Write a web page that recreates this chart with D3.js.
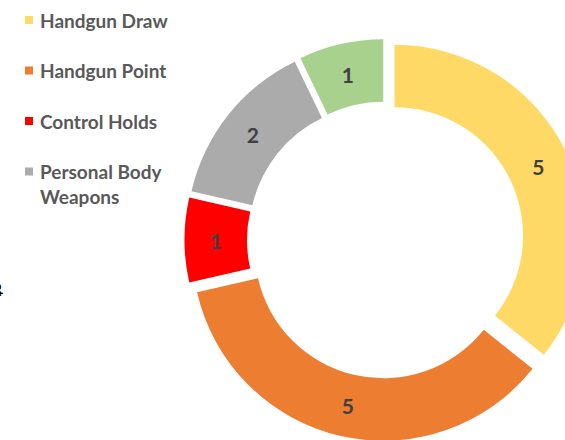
<!DOCTYPE html>
<html>
<head>
<meta charset="utf-8">
<script src="https://cdn.jsdelivr.net/npm/d3@7/dist/d3.min.js"></script>
<style>
  html, body { margin: 0; padding: 0; background: #fff; }
  svg { display: block; }
</style>
</head>
<body>
<svg id="chart" width="565" height="440"></svg>
<script>
// ---- data ----
const categories = ["Handgun Draw", "Handgun Point", "Control Holds", "Personal Body Weapons", "Other"];
const values = [5, 5, 1, 2, 1];
const colors = ["#FFD966", "#ED7D31", "#FF0000", "#ABABAB", "#A9D18E"];
const legendLines = [["Handgun Draw"], ["Handgun Point"], ["Control Holds"], ["Personal Body", "Weapons"]];

// ---- layout ----
const cx = 385.5, cy = 240;
const outerR = 191, innerR = 128.5;
const explode = 10;

const svg = d3.select("#chart");

const pie = d3.pie().sort(null).value(d => d.v).startAngle(0).endAngle(2 * Math.PI);
const data = categories.map((c, i) => ({ c, v: values[i], col: colors[i] }));
const arcs = pie(data);

const arcGen = d3.arc().innerRadius(innerR).outerRadius(outerR);
const labelR = (innerR + outerR) / 2;

const g = svg.append("g").attr("transform", `translate(${cx},${cy})`);

const slice = g.selectAll("g.slice").data(arcs).enter().append("g")
  .attr("class", "slice")
  .attr("transform", d => {
    const m = (d.startAngle + d.endAngle) / 2;
    return `translate(${explode * Math.sin(m)},${-explode * Math.cos(m)})`;
  });

slice.append("path")
  .attr("d", arcGen)
  .attr("fill", d => d.data.col);

slice.append("text")
  .attr("x", d => labelR * Math.sin((d.startAngle + d.endAngle) / 2))
  .attr("y", d => -labelR * Math.cos((d.startAngle + d.endAngle) / 2))
  .attr("text-anchor", "middle")
  .attr("dominant-baseline", "central")
  .attr("font-family", "Lato, 'Open Sans', sans-serif")
  .attr("font-weight", "bold")
  .attr("font-size", 21)
  .attr("fill", "#404040")
  .text(d => d.data.v);

// ---- legend ----
const legendY = d3.scaleLinear().domain([0, 1]).range([20, 70.5]);
const leg = svg.append("g");
legendLines.forEach((lines, i) => {
  const y = legendY(i);
  leg.append("rect")
    .attr("x", 25).attr("y", y - 4).attr("width", 8).attr("height", 8)
    .attr("fill", colors[i]);
  lines.forEach((t, j) => {
    leg.append("text")
      .attr("x", 40).attr("y", y + j * 25)
      .attr("dominant-baseline", "central")
      .attr("font-family", "Lato, 'Open Sans', sans-serif")
      .attr("font-weight", "bold")
      .attr("font-size", 19)
      .attr("fill", "#595959")
      .text(t);
  });
});

// clipped fragment of a rotated title at the left edge
svg.append("text")
  .attr("transform", "translate(-6,283) rotate(90)")
  .attr("font-family", "Lato, sans-serif")
  .attr("font-weight", "bold")
  .attr("font-size", 14)
  .attr("fill", "#000")
  .text("ot");
</script>
</body>
</html>
